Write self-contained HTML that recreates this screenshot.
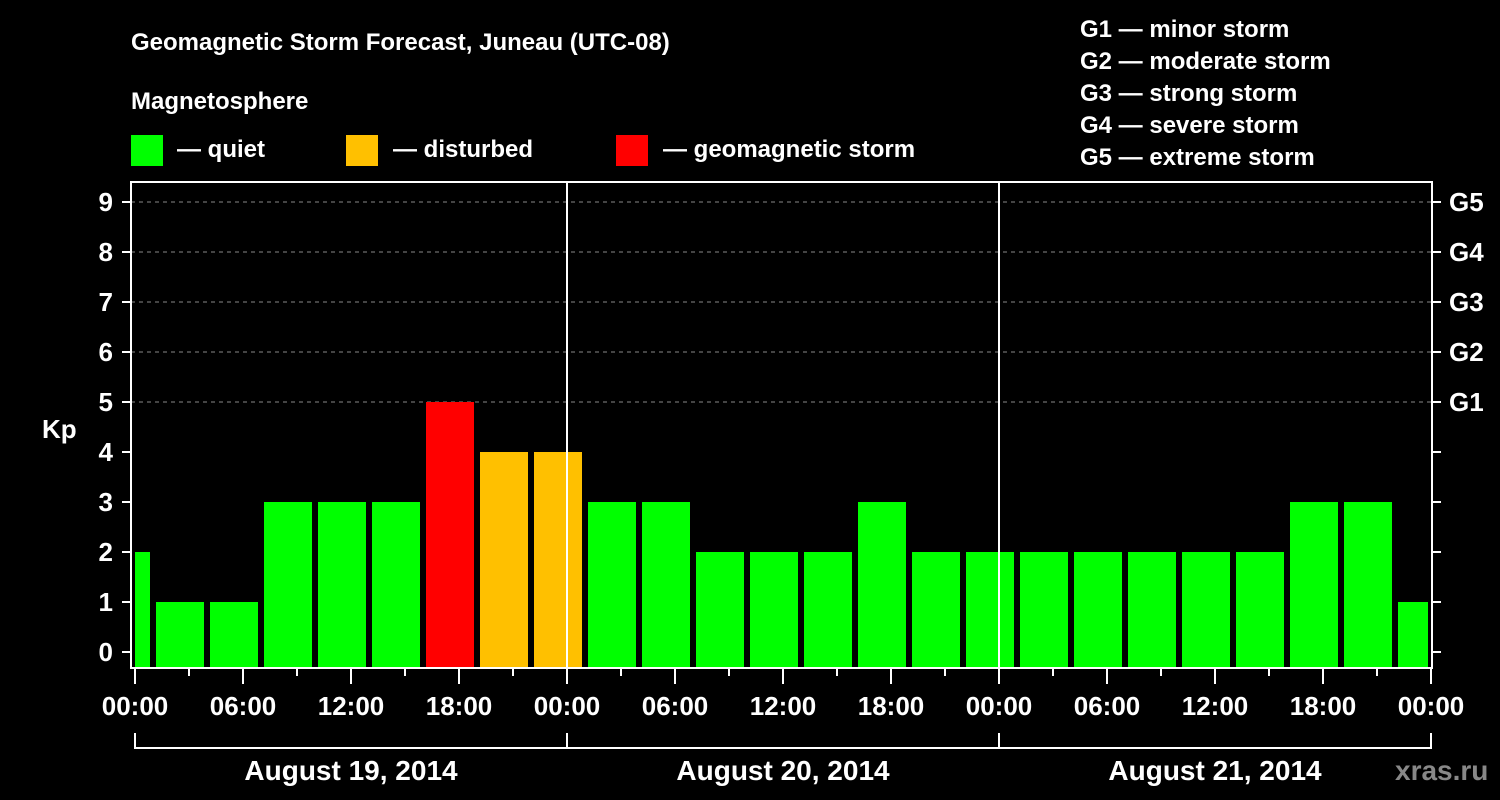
<!DOCTYPE html>
<html><head><meta charset="utf-8"><style>
body{margin:0;background:#000;}
svg{display:block;font-family:"Liberation Sans",sans-serif;font-weight:bold;}
</style></head><body>
<svg width="1500" height="800" viewBox="0 0 1500 800">
<rect width="1500" height="800" fill="#000"/>
<text x="131" y="50" fill="#fff" font-size="24">Geomagnetic Storm Forecast, Juneau (UTC-08)</text>
<text x="131" y="109" fill="#fff" font-size="24">Magnetosphere</text>
<g>
<rect x="131" y="135" width="32" height="31" fill="#00ff00"/>
<text x="177" y="157" fill="#fff" font-size="24">— quiet</text>
<rect x="346" y="135" width="32" height="31" fill="#ffc000"/>
<text x="393" y="157" fill="#fff" font-size="24">— disturbed</text>
<rect x="616" y="135" width="32" height="31" fill="#ff0000"/>
<text x="663" y="157" fill="#fff" font-size="24">— geomagnetic storm</text>
</g>
<g fill="#fff" font-size="24">
<text x="1080" y="37">G1 — minor storm</text>
<text x="1080" y="69">G2 — moderate storm</text>
<text x="1080" y="101">G3 — strong storm</text>
<text x="1080" y="133">G4 — severe storm</text>
<text x="1080" y="165">G5 — extreme storm</text>
</g>
<text x="42" y="438" fill="#fff" font-size="26">Kp</text>
<text x="1395" y="780" fill="#888" font-size="28">xras.ru</text>
<g id="plot"></g>
</svg>
<script>
const kpValues=[2,1,1,3,3,3,5,4,4,3,3,2,2,2,3,2,2,2,2,2,2,2,3,3,1];
const yTicks=[0,1,2,3,4,5,6,7,8,9];
const gLabels=["G1","G2","G3","G4","G5"];
const gLevels=[5,6,7,8,9];
const hourLabels=["00:00","06:00","12:00","18:00"];
const dayLabels=["August 19, 2014","August 20, 2014","August 21, 2014"];
const startHourOffset=-2; // first 3-hour slot begins at 22:00 previous day

const NS="http://www.w3.org/2000/svg";
const L=131,R=1432,T=182,B=668,X0=135,PXH=18;
const xs=h=>X0+h*PXH;
const ys=v=>652-v*50;
const g=document.getElementById('plot');
function mk(tag,a,parent){const e=document.createElementNS(NS,tag);for(const k in a)e.setAttribute(k,a[k]);(parent||g).appendChild(e);return e;}

// grid
gLevels.forEach(v=>{
 const e=mk('line',{x1:L,x2:R,y1:ys(v),y2:ys(v),stroke:'#888','stroke-width':1,'stroke-dasharray':'4,4'});
 
 
});
// bars
kpValues.forEach((v,i)=>{
 let h0=startHourOffset+i*3,h1=h0+3;
 let x0=xs(h0)+3,x1=xs(h1)-3;
 x0=Math.max(x0,L+4);x1=Math.min(x1,R-4);
 const c=v>=5?'#ff0000':(v>=4?'#ffc000':'#00ff00');
 const e=mk('rect',{x:x0,y:ys(v),width:x1-x0,height:B-ys(v),fill:c});
 
 
});
// day separators
for(let d=1;d<dayLabels.length;d++){
 const e=mk('line',{x1:xs(24*d),x2:xs(24*d),y1:T,y2:B,stroke:'#fff','stroke-width':2});
 
 
}
// frame
const fr=mk('rect',{x:L,y:T,width:R-L,height:B-T,fill:'none',stroke:'#fff','stroke-width':2});


// y ticks
yTicks.forEach(v=>{
 mk('line',{x1:L-9,x2:L,y1:ys(v),y2:ys(v),stroke:'#fff','stroke-width':2});
 mk('line',{x1:R,x2:R+9,y1:ys(v),y2:ys(v),stroke:'#fff','stroke-width':2});
 const t=mk('text',{x:L-18,y:ys(v)+9,fill:'#fff','font-size':26,'text-anchor':'end'});
 t.textContent=v;
 
 
});
gLabels.forEach((s,i)=>{
 const t=mk('text',{x:R+17,y:ys(gLevels[i])+9,fill:'#fff','font-size':26});
 t.textContent=s;
 
 
});
// x ticks
const nDays=dayLabels.length;
for(let h=0;h<=24*nDays;h+=3){
 const major=h%6===0;
 mk('line',{x1:xs(h),x2:xs(h),y1:B,y2:B+(major?16:8),stroke:'#fff','stroke-width':2});
 if(major&&h%6===0){
  const lab=hourLabels[(h%24)/6];
  const t=mk('text',{x:xs(h),y:715,fill:'#fff','font-size':26,'text-anchor':'middle'});
  t.textContent=lab;
  
  
 }
}
// date bracket
mk('line',{x1:xs(0),x2:xs(24*nDays),y1:748,y2:748,stroke:'#fff','stroke-width':2});
for(let d=0;d<=nDays;d++) mk('line',{x1:xs(24*d),x2:xs(24*d),y1:733,y2:749,stroke:'#fff','stroke-width':2});
dayLabels.forEach((s,d)=>{
 const t=mk('text',{x:xs(24*d+12),y:780,fill:'#fff','font-size':28,'text-anchor':'middle'});
 t.textContent=s;
 
 
});
</script>
</body></html>
